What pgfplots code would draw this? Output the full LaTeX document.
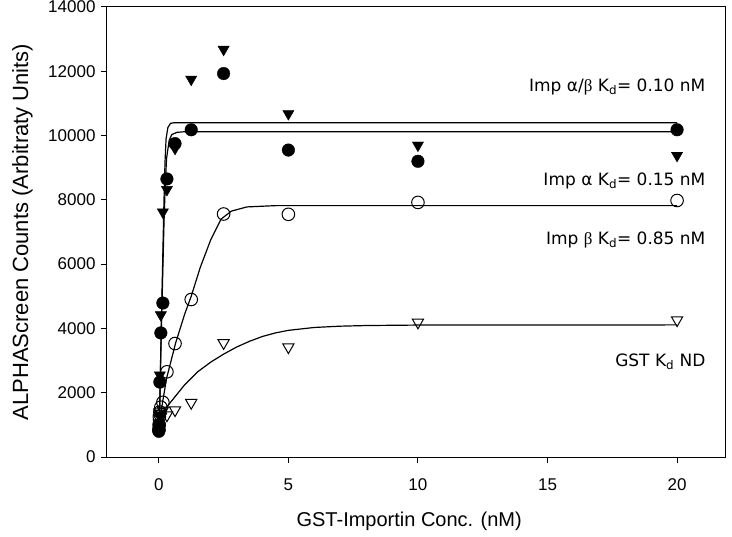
\documentclass[border=0pt]{standalone}
\usepackage{fontspec}
\setmainfont{Liberation Sans}
\newfontfamily\verd{DejaVu Sans}
\newfontfamily\serifg{Liberation Serif}
\usepackage{pgfplots}
\pgfplotsset{compat=1.18}
\usepackage{pgfplotstable}
\pgfplotstableread{
x y
0 800
0.0098 850
0.0195 1000
0.039 2330
0.078 3860
0.156 4790
0.3125 8650
0.625 9750
1.25 10180
2.5 11930
5 9550
10 9200
20 10180
}\fcirc
\pgfplotstableread{
x y
0 900
0.0098 1050
0.0195 1300
0.039 2550
0.078 4420
0.156 7620
0.3125 8320
0.625 9600
1.25 11750
2.5 12680
5 10680
10 9700
20 9380
}\ftri
\pgfplotstableread{
x y
0 850
0.0098 1000
0.0195 1250
0.039 1400
0.078 1550
0.156 1700
0.3125 2650
0.625 3530
1.25 4900
2.5 7560
5 7550
10 7920
20 7980
}\ocirc
\pgfplotstableread{
x y
0 1050
0.0098 1200
0.0195 1400
0.039 1350
0.078 1250
0.156 1450
0.3125 1300
0.625 1460
1.25 1690
2.5 3550
5 3420
10 4190
20 4260
}\otri
\begin{document}
\begin{tikzpicture}
\begin{axis}[
  width=618bp, height=450bp, scale only axis,
  xmin=-2, xmax=21.85, ymin=0, ymax=14000,
  xtick={0,5,10,15,20}, ytick={0,2000,4000,6000,8000,10000,12000,14000},
  tick pos=left, tick align=outside, major tick length=6bp,
  scaled y ticks=false,
  /pgf/number format/assume math mode=true,
  /pgf/number format/1000 sep={},
  tick label style={font=\fontsize{17bp}{19bp}\selectfont},
  xticklabel style={yshift=-12bp},
  yticklabel style={xshift=-2bp},
  xlabel={GST-Importin Conc. (nM)},
  ylabel={ALPHAScreen Counts (Arbitraty Units)},
  xlabel style={font=\fontsize{20bp}{23bp}\selectfont, at={(axis description cs:0.489,-0.144)}, anchor=center},
  ylabel style={font=\fontsize{22bp}{25bp}\selectfont, at={(axis description cs:-0.137,0.5)}, anchor=center},
  axis line style={line width=1bp},
  every tick/.style={black, line width=1bp},
  clip=false,
]
% fitted curves (traced)
\addplot[black, line width=1.2bp] coordinates {(0,800) (0.04,1800) (0.08,3500) (0.12,5000) (0.16,6500) (0.2,8000) (0.24,9200) (0.28,9900) (0.35,10250) (0.45,10380) (0.6,10400) (20,10400)};
\addplot[black, line width=1.2bp] coordinates {(0,800) (0.04,1700) (0.08,3300) (0.12,4700) (0.16,6000) (0.2,7300) (0.25,8500) (0.3,9300) (0.4,9850) (0.5,10030) (0.7,10100) (1.0,10120) (20,10120)};
\addplot[black, line width=1.2bp] coordinates {(0,1000) (0.3,2450) (0.65,3550) (1.0,4450) (1.25,5000) (1.6,5900) (2.0,6750) (2.4,7400) (2.8,7650) (3.4,7780) (4.5,7820) (20,7820)};
\addplot[black, line width=1.2bp] coordinates {(0,1250) (0.5,1750) (1,2250) (1.5,2650) (2,2950) (2.5,3200) (3,3420) (3.5,3600) (4,3750) (4.5,3860) (5,3940) (6,4030) (7,4070) (8,4090) (10,4105) (20,4110)};
% data
\addplot[only marks, mark=*, mark size=6.3bp, mark options={fill=black, draw=black}] table {\fcirc};
\addplot[only marks, mark=triangle*, mark size=6.5bp, mark options={fill=black, draw=black, rotate=180}] table {\ftri};
\addplot[only marks, mark=o, mark size=6.3bp, mark options={draw=black, line width=1bp}] table {\ocirc};
\addplot[only marks, mark=triangle, mark size=6.5bp, mark options={draw=black, line width=1bp, rotate=180}] table {\otri};
% annotations
\node[anchor=east, font=\verd\fontsize{17bp}{20bp}\selectfont] at (axis cs:21.23,11511) {Imp α/{\serifg β} K\textsubscript{d}= 0.10 nM};
\node[anchor=east, font=\verd\fontsize{17bp}{20bp}\selectfont] at (axis cs:21.23,8587) {Imp α K\textsubscript{d}= 0.15 nM};
\node[anchor=east, font=\verd\fontsize{17bp}{20bp}\selectfont] at (axis cs:21.23,6751) {Imp {\serifg β} K\textsubscript{d}= 0.85 nM};
\node[anchor=east, font=\verd\fontsize{17bp}{20bp}\selectfont] at (axis cs:21.23,2956) {GST K\textsubscript{d} ND};
\end{axis}
\pgfresetboundingbox
\path ([shift={(-107bp,-80bp)}]current axis.south west) rectangle ([shift={(7bp,7bp)}]current axis.north east);
\end{tikzpicture}
\end{document}
